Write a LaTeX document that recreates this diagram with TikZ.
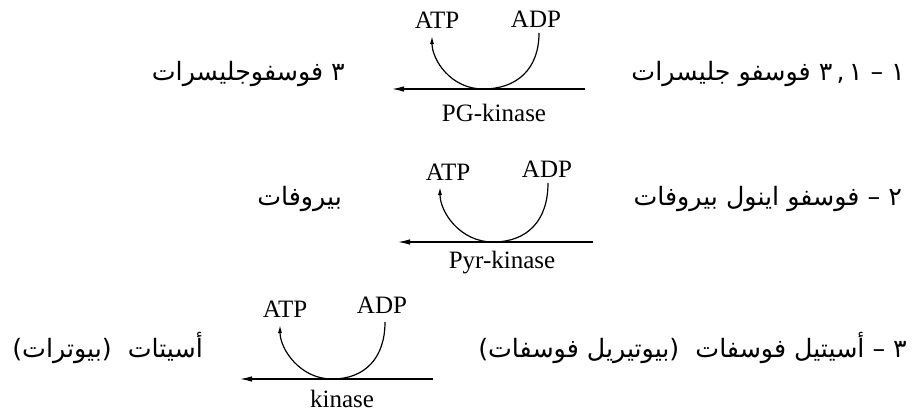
\documentclass[tikz,border=0pt]{standalone}
\usepackage{fontspec}
\setmainfont{Liberation Serif}
\newfontfamily\arabicfont[Script=Arabic]{DejaVu Sans}
\TeXXeTstate=1
\usetikzlibrary{arrows.meta}
\begin{document}
\begin{tikzpicture}[x=1pt,y=-1pt,
  lat/.style={font=\fontsize{25}{29}\selectfont, inner sep=0pt, anchor=base},
  ar/.style={font=\arabicfont\fontsize{25.3}{30}\selectfont, inner sep=0pt, anchor=base east},
  flow/.style={line width=1.2pt, -{Latex[length=12pt,width=5.5pt]}},
  cyc/.style={line width=1.2pt, -{Latex[length=8pt,width=4pt]}},
]
\useasboundingbox (0,0) rectangle (913,416);

% ---------- row 1
\begin{scope}[shift={(483,89)}]
  \node[lat] (atp1) at (-46,-61) {ATP};
  \node[lat] (adp1) at (53,-62) {ADP};
  \node[lat] (enz1) at (11,32) {PG-kinase};
  \coordinate (r1) at (102,0);
  \coordinate (l1) at (-91,0);
  \coordinate (b1) at (0,0);
  \coordinate (s1) at (56,-56);
  \coordinate (t1) at (-51,-53);
\end{scope}
\draw[flow] (r1) -- (l1);
\draw[cyc] (s1) .. controls ([yshift=-36pt]s1) and ([xshift=34pt]b1) .. (b1)
           .. controls ([xshift=-32pt]b1) and ([yshift=-24pt]t1) .. (t1);
\node[ar] (src1) at (905,80) {\beginR ١ – ١\,,\,٣ فوسفو جليسرات\endR};
\node[ar] (prd1) at (345,80) {\beginR ٣ فوسفوجليسرات\endR};

% ---------- row 2
\begin{scope}[shift={(493,242)}]
  \node[lat] (atp2) at (-45,-62) {ATP};
  \node[lat] (adp2) at (54,-65) {ADP};
  \node[lat] (enz2) at (9,26) {Pyr-kinase};
  \coordinate (r2) at (100,0);
  \coordinate (l2) at (-95,0);
  \coordinate (b2) at (0,0);
  \coordinate (s2) at (55,-59);
  \coordinate (t2) at (-53,-55);
\end{scope}
\draw[flow] (r2) -- (l2);
\draw[cyc] (s2) .. controls ([yshift=-38pt]s2) and ([xshift=34pt]b2) .. (b2)
           .. controls ([xshift=-33pt]b2) and ([yshift=-25pt]t2) .. (t2);
\node[ar] (src2) at (902,205) {\beginR ٢ – فوسفو اينول بيروفات\endR};
\node[ar] (prd2) at (342,205) {\beginR بيروفات\endR};

% ---------- row 3
\begin{scope}[shift={(332,379)}]
  \node[lat] (atp3) at (-47,-62) {ATP};
  \node[lat] (adp3) at (50,-66) {ADP};
  \node[lat] (enz3) at (10,28) {kinase};
  \coordinate (r3) at (101,0);
  \coordinate (l3) at (-92,0);
  \coordinate (b3) at (0,0);
  \coordinate (s3) at (53,-57);
  \coordinate (t3) at (-52,-54);
\end{scope}
\draw[flow] (r3) -- (l3);
\draw[cyc] (s3) .. controls ([yshift=-36pt]s3) and ([xshift=33pt]b3) .. (b3)
           .. controls ([xshift=-32pt]b3) and ([yshift=-24pt]t3) .. (t3);
\node[ar] (src3) at (907,357) {\beginR ٣ – أسيتيل فوسفات\ \ (بيوتيريل فوسفات)\endR};
\node[ar] (prd3) at (203,357) {\beginR أسيتات\ \ (بيوترات)\endR};
\end{tikzpicture}
\end{document}
